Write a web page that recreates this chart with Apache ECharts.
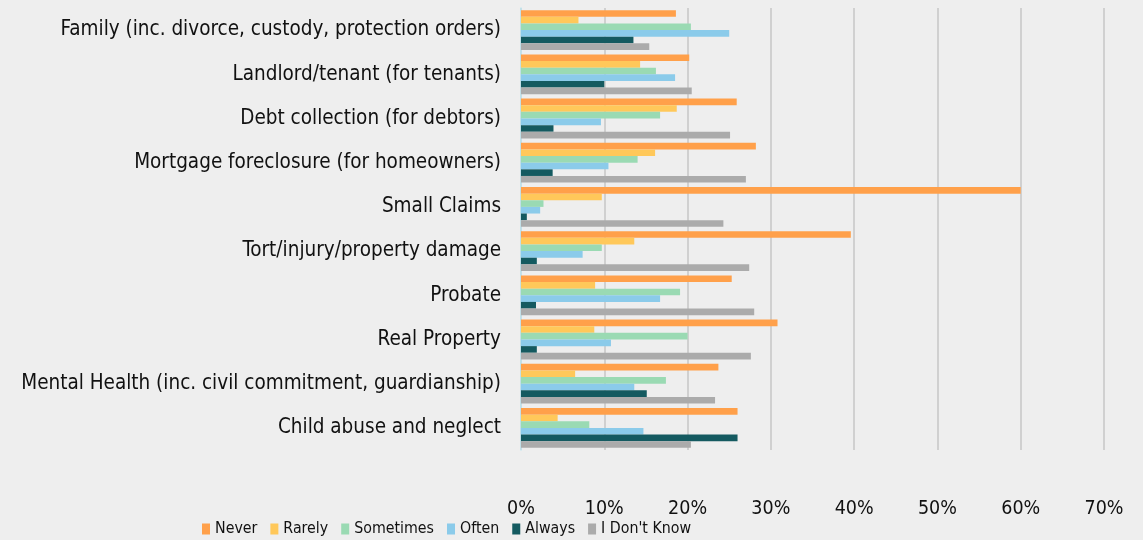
<!DOCTYPE html>
<html lang="en">
<head>
    <meta charset="UTF-8">
    <title>Case types</title>
    <script src="https://cdn.jsdelivr.net/npm/echarts@6/dist/echarts.min.js"></script>
    <style>
        html, body { margin: 0; padding: 0; background: #eeeeee; }
        #main { width: 1143px; height: 540px; }
    </style>
</head>
<body>
    <div id="main"></div>
    <script>
        // categories, top to bottom
        var categories = [
            'Family (inc. divorce, custody, protection orders)',
            'Landlord/tenant (for tenants)',
            'Debt collection (for debtors)',
            'Mortgage foreclosure (for homeowners)',
            'Small Claims',
            'Tort/injury/property damage',
            'Probate',
            'Real Property',
            'Mental Health (inc. civil commitment, guardianship)',
            'Child abuse and neglect'
        ];
        // percentages
        var never     = [18.6, 20.2, 25.9, 28.2, 60.0, 39.6, 25.3, 30.8, 23.7, 26.0];
        var rarely    = [6.9, 14.3, 18.7, 16.1, 9.7, 13.6, 8.9, 8.8, 6.5, 4.4];
        var sometimes = [20.4, 16.2, 16.7, 14.0, 2.7, 9.7, 19.1, 20.0, 17.4, 8.2];
        var often     = [25.0, 18.5, 9.6, 10.5, 2.3, 7.4, 16.7, 10.8, 13.6, 14.7];
        var always    = [13.5, 10.0, 3.9, 3.8, 0.7, 1.9, 1.8, 1.9, 15.1, 26.0];
        var dontKnow  = [15.4, 20.5, 25.1, 27.0, 24.3, 27.4, 28.0, 27.6, 23.3, 20.4];

        var seriesNames = ['Never', 'Rarely', 'Sometimes', 'Often', 'Always', "I Don't Know"];
        var seriesData = [never, rarely, sometimes, often, always, dontKnow];
        var colors = ['#ffa04a', '#ffc85a', '#9adab3', '#8bcbea', '#145a60', '#ababab'];

        var font = '"DejaVu Sans Condensed", "DejaVu Sans", sans-serif';

        var myChart = echarts.init(document.getElementById('main'));

        var series = seriesNames.map(function (name, i) {
            return {
                name: name,
                type: 'bar',
                data: seriesData[i],
                barGap: '0%',
                barCategoryGap: '10%',
                itemStyle: { color: colors[i] }
            };
        });

        var option = {
            backgroundColor: '#eeeeee',
            color: colors,
            animation: false,
            textStyle: { fontFamily: font },
            legend: {
                data: seriesNames,
                left: 197,
                top: 516,
                itemWidth: 8,
                itemHeight: 11,
                itemGap: 13,
                icon: 'rect',
                textStyle: { fontSize: 15.8, color: '#111', fontFamily: font }
            },
            grid: {
                left: 521,
                right: 39,
                top: 8,
                bottom: 90
            },
            xAxis: {
                type: 'value',
                min: 0,
                max: 70,
                interval: 10,
                axisLine: { show: false },
                axisTick: { show: false },
                splitLine: { lineStyle: { color: '#d0d0d0', width: 2 } },
                axisLabel: {
                    formatter: '{value}%',
                    fontSize: 19.5,
                    color: '#111',
                    fontFamily: font,
                    margin: 49
                }
            },
            yAxis: {
                type: 'category',
                data: categories,
                inverse: true,
                axisLine: { show: true, lineStyle: { color: '#bfe6f0', width: 1.5 } },
                axisTick: { show: false },
                axisLabel: {
                    fontSize: 20.5,
                    color: '#111',
                    fontFamily: font,
                    margin: 20
                }
            },
            series: series
        };

        myChart.setOption(option);
    </script>
</body>
</html>
